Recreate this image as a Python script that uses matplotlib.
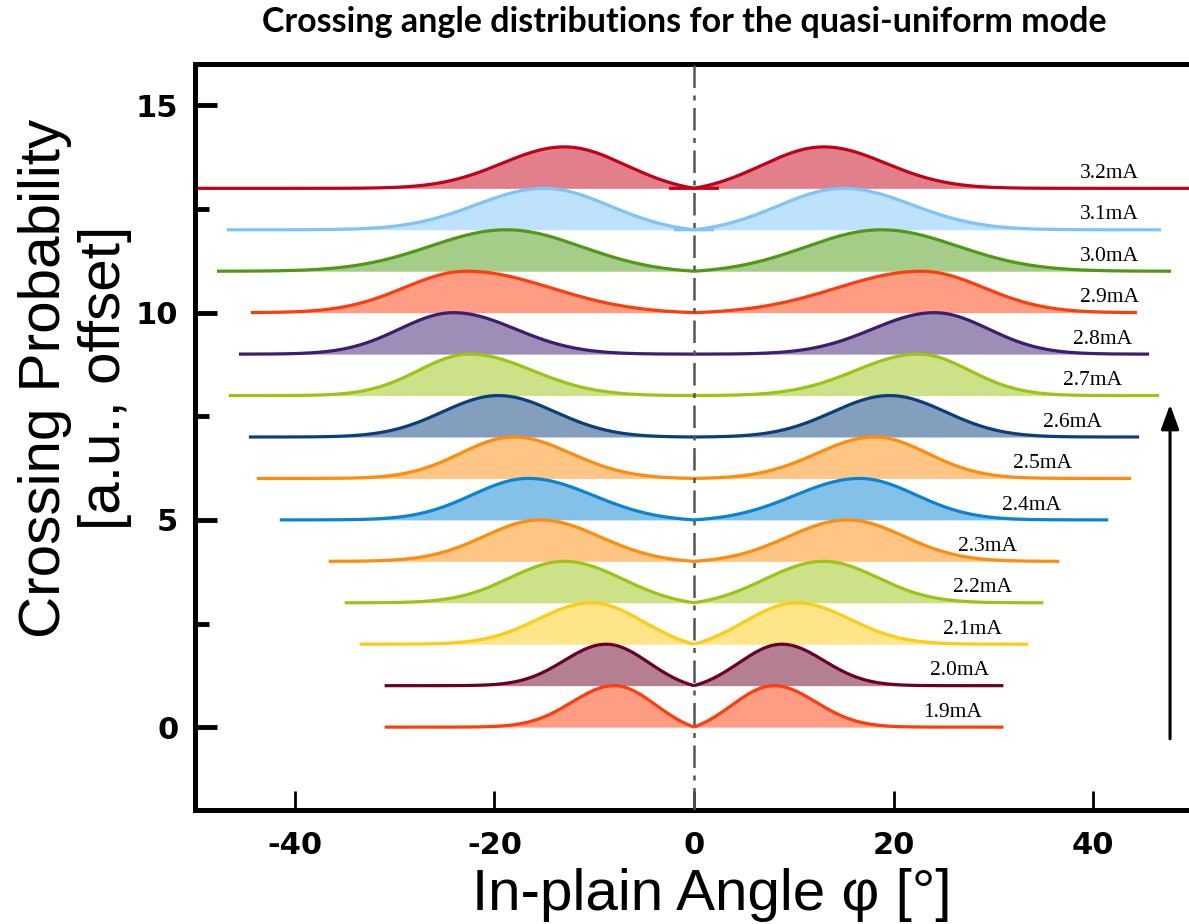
import numpy as np
import matplotlib
matplotlib.use("Agg")
from matplotlib import pyplot as plt
from matplotlib.ticker import MultipleLocator

plt.rcParams["axes.unicode_minus"] = False

# drive current of each run, bottom to top
currents = ["1.9", "2.0", "2.1", "2.2", "2.3", "2.4", "2.5",
            "2.6", "2.7", "2.8", "2.9", "3.0", "3.1", "3.2"]
# peak angle of the crossing distribution (deg, mirrored at 0)
peak_angle = [8.0, 8.8, 10.3, 13.0, 15.4, 16.6, 18.1,
              19.6, 22.5, 24.1, 22.8, 18.8, 15.0, 13.0]
# width towards 0 deg and away from it (deg)
width_in = [4.2, 4.3, 5.3, 5.9, 6.0, 6.5, 5.8,
            5.7, 6.3, 6.2, 8.5, 7.6, 6.6, 6.2]
width_out = [4.2, 4.2, 5.3, 5.4, 5.6, 5.6, 5.3,
             5.6, 5.1, 5.4, 6.2, 7.6, 6.8, 6.2]
# measured angular range of each run (deg)
angle_range = [31.0, 31.0, 33.5, 35.0, 36.6, 41.5, 43.8,
               44.6, 46.6, 45.6, 44.4, 47.8, 46.8, 51.0]

line_colors = ["#ff3d0a", "#6b0024", "#ffcc14", "#9cc414", "#ff8c0a", "#0a84d2", "#ff8c0a",
               "#0a3f7c", "#9cc414", "#3e1c70", "#ff3d0a", "#4e9a14", "#7ec4fa", "#c40018"]
label_x = [23.0, 23.6, 25.0, 26.0, 26.5, 30.9, 32.0,
           35.0, 37.0, 38.0, 38.7, 38.7, 38.7, 38.7]
# the two top runs were drawn with the halves overlapping slightly at 0
overlap = [0, 0, 0, 0, 0, 0, 0, 0, 0, 0, 0, 0, 2.0, 2.5]


def half_profile(x, mu, s_in, s_out):
    g = np.where(x < mu, np.exp(-(x - mu) ** 2 / (2 * s_in ** 2)),
                 np.exp(-(x - mu) ** 2 / (2 * s_out ** 2)))
    g0 = np.exp(-mu ** 2 / (2 * s_in ** 2))
    inner = np.clip((g - g0) / (1 - g0), 0, None)
    return np.where(x < mu, inner, g)


fig = plt.figure(figsize=(11.89, 9.24), dpi=100)
ax = fig.add_axes([195 / 1189, 1 - 810 / 924, 998 / 1189, 746 / 924])

for i in range(len(currents) - 1, -1, -1):
    mu = peak_angle[i]
    xr = np.linspace(-overlap[i], angle_range[i], 400)
    yr = half_profile(xr, mu, width_in[i], width_out[i])
    for sign in (1, -1):
        xs = sign * xr
        ax.fill_between(xs, i, i + yr, color=line_colors[i], alpha=0.5, lw=0, zorder=2 + 0.1 * (13 - i))
        ax.plot(xs, i + yr, color=line_colors[i], lw=2.3, zorder=2.05 + 0.1 * (13 - i),
                solid_capstyle='butt')
    ax.text(label_x[i], i + 0.13, currents[i] + "mA", family="Liberation Serif",
            fontsize=15.5, ha="left", va="bottom", zorder=5)

ax.axvline(0, color="#555555", lw=1.8, linestyle=(0, (9, 3, 2, 3)), zorder=6)

ax.annotate("", xy=(47.7, 7.85), xytext=(47.7, -0.35),
            arrowprops=dict(arrowstyle="-|>,head_length=1.5,head_width=0.55",
                            lw=2.2, color="black"))

ax.set_xlim(-50, 50)
ax.set_ylim(-2, 16)
ax.set_xticks([-40, -20, 0, 20, 40])
ax.set_yticks([0, 5, 10, 15])
ax.yaxis.set_minor_locator(MultipleLocator(2.5))
ax.tick_params(axis="x", direction="in", length=14, width=2, pad=15)
ax.tick_params(axis="y", which="major", direction="in", length=16, width=3.5, pad=12)
ax.tick_params(axis="y", which="minor", direction="in", length=10, width=3.5)
for lab in ax.get_xticklabels() + ax.get_yticklabels():
    lab.set_family("DejaVu Sans")
    lab.set_fontweight("bold")
    lab.set_fontsize(22)

for side in ("left", "bottom", "top"):
    ax.spines[side].set_linewidth(3.6)
ax.spines["right"].set_visible(False)

fig.text(712 / 1189, 1 - 910 / 924, "In-plain Angle φ [°]", ha="center", va="baseline",
         family="Liberation Sans", fontsize=42)
fig.text(75 / 1189, 1 - 378 / 924, "Crossing Probability\n[a.u., offset]", rotation=90,
         ha="center", va="center", multialignment="center",
         family="Liberation Sans", fontsize=42, linespacing=1.16)
fig.text(684 / 1189, 1 - 22 / 924, "Crossing angle distributions for the quasi-uniform mode",
         ha="center", va="center", family="Lato", fontweight="bold", fontsize=24.5)

fig.savefig("out.png", dpi=100)
